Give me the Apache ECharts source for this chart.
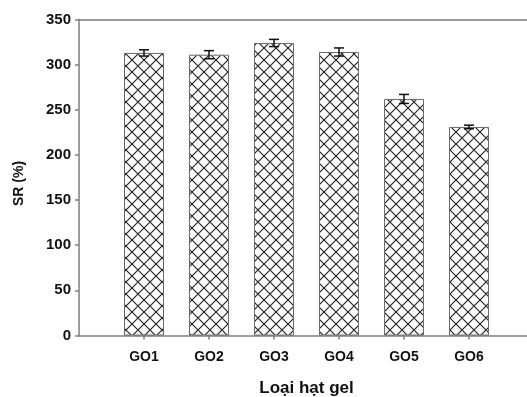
<!DOCTYPE html>
<html>
<head>
<meta charset="utf-8">
<script src="https://cdn.jsdelivr.net/npm/echarts@6/dist/echarts.min.js"></script>
<style>
  html, body { margin: 0; padding: 0; background: #fff; overflow: hidden; }
  #chart { width: 527px; height: 397px; }
</style>
</head>
<body>
<div id="chart"></div>
<script>
// Swelling ratio of each gel bead type, with standard deviations
const categories = ['GO1', 'GO2', 'GO3', 'GO4', 'GO5', 'GO6'];
const srValues = [313, 311, 324, 314, 262, 231];
const srErrors = [3.5, 4.5, 4, 4.5, 5, 2];
const yTicks = [0, 50, 100, 150, 200, 250, 300, 350];

const FONT = '"Liberation Sans", Arial, sans-serif';
const AXIS_COLOR = '#7d7d7d';

// Cross-hatch fill for the bars
function makeHatch() {
  const s = 12;
  const c = document.createElement('canvas');
  c.width = s; c.height = s;
  const g = c.getContext('2d');
  g.fillStyle = '#ffffff';
  g.fillRect(0, 0, s, s);
  g.strokeStyle = '#262626';
  g.lineWidth = 1.2;
  g.beginPath();
  g.moveTo(-1, -1); g.lineTo(s + 1, s + 1);
  g.moveTo(s + 1, -1); g.lineTo(-1, s + 1);
  g.stroke();
  return c;
}

// Bars sit at positions 1..6 on a numeric x scale
const barData = srValues.map((v, i) => [i + 1, v]);
const errData = srValues.map((v, i) => [i + 1, v - srErrors[i], v + srErrors[i]]);
const xPositions = categories.map((_, i) => i + 1);

const chart = echarts.init(document.getElementById('chart'), null, { renderer: 'canvas' });

chart.setOption({
  animation: false,
  backgroundColor: '#ffffff',
  textStyle: { fontFamily: FONT },
  // the frame runs past the right edge of the canvas
  grid: { left: 79, width: 455, top: 19.5, bottom: 61.5, containLabel: false, outerBoundsMode: 'none' },
  xAxis: [
    {
      type: 'value',
      min: 0,
      max: 7,
      position: 'bottom',
      name: 'Loại hạt gel',
      nameLocation: 'middle',
      nameGap: 44,
      nameTextStyle: { fontFamily: FONT, fontWeight: 'bold', fontSize: 17, color: '#111' },
      splitLine: { show: false },
      axisLine: { show: true, lineStyle: { color: AXIS_COLOR, width: 1.5 } },
      axisTick: { show: true, customValues: xPositions, length: 4, lineStyle: { color: AXIS_COLOR, width: 1.5 } },
      axisLabel: {
        show: true,
        customValues: xPositions,
        margin: 15,
        fontFamily: FONT, fontWeight: 'bold', fontSize: 14, color: '#111',
        formatter: v => categories[Math.round(v) - 1] || ''
      }
    },
    {
      type: 'value',
      min: 0,
      max: 7,
      position: 'top',
      splitLine: { show: false },
      axisLine: { show: true, lineStyle: { color: AXIS_COLOR, width: 1.5 } },
      axisTick: { show: false },
      axisLabel: { show: false }
    }
  ],
  yAxis: {
    type: 'value',
    min: 0,
    max: 350,
    interval: 50,
    name: 'SR (%)',
    nameLocation: 'middle',
    nameGap: 53,
    nameRotate: 90,
    nameTextStyle: { fontFamily: FONT, fontWeight: 'bold', fontSize: 14, color: '#111', padding: [0, 12, 0, 0] },
    splitLine: { show: false },
    axisLine: { show: true, lineStyle: { color: AXIS_COLOR, width: 1.5 } },
    axisTick: { show: true, length: 4, lineStyle: { color: AXIS_COLOR, width: 1.5 } },
    axisLabel: {
      margin: 8,
      fontFamily: FONT, fontWeight: 'bold', fontSize: 15, color: '#111',
      customValues: yTicks
    }
  },
  series: [
    {
      type: 'bar',
      xAxisIndex: 0,
      data: barData,
      barWidth: 40,
      itemStyle: {
        color: { image: makeHatch(), repeat: 'repeat' },
        borderColor: '#6a6a6a',
        borderWidth: 1
      },
      z: 2
    },
    {
      type: 'custom',
      xAxisIndex: 0,
      data: errData,
      z: 5,
      renderItem: (params, api) => {
        const x = api.value(0);
        const lo = api.coord([x, api.value(1)]);
        const hi = api.coord([x, api.value(2)]);
        const hw = 5;
        const style = { stroke: '#111', lineWidth: 1.5, fill: null };
        return {
          type: 'group',
          children: [
            { type: 'line', shape: { x1: lo[0], y1: lo[1], x2: hi[0], y2: hi[1] }, style },
            { type: 'line', shape: { x1: hi[0] - hw, y1: hi[1], x2: hi[0] + hw, y2: hi[1] }, style },
            { type: 'line', shape: { x1: lo[0] - hw, y1: lo[1], x2: lo[0] + hw, y2: lo[1] }, style }
          ]
        };
      }
    }
  ]
});
</script>
</body>
</html>
